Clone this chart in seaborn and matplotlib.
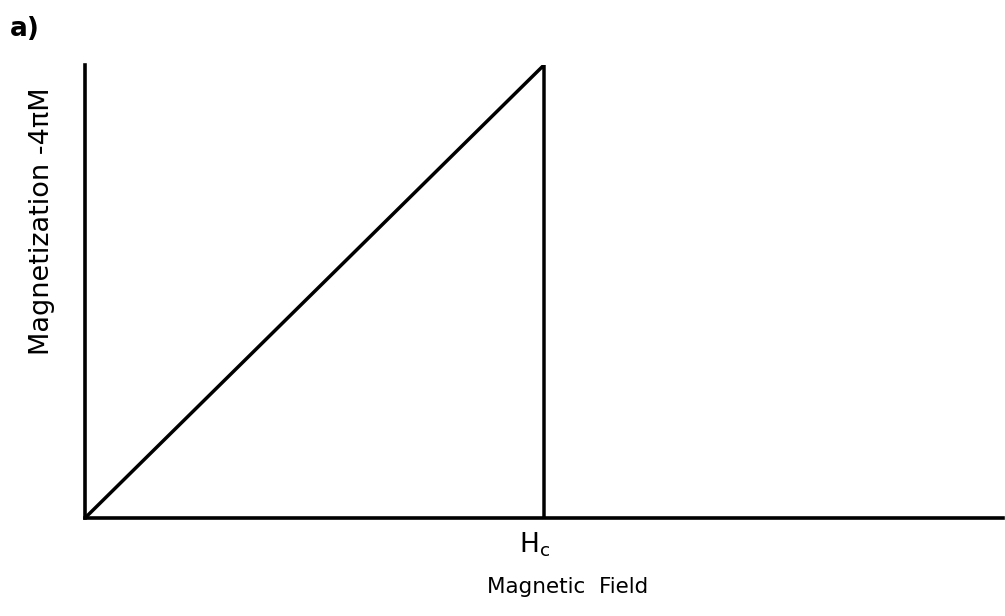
import matplotlib
matplotlib.use("Agg")
import matplotlib.pyplot as plt
import seaborn as sns
import pandas as pd

# Field and magnetization of an ideal type-I superconductor (normalised to Hc)
field = [0.0, 1.0, 1.0]
magnetization = [0.0, 1.0, 0.0]
critical_field = 1.0
critical_label = "H$_\\mathregular{c}$"

sns.set_theme(style="white")
plt.rcParams["font.family"] = ["DejaVu Sans"]

fig = plt.figure(figsize=(10.05, 6.16), dpi=100)
ax = fig.add_axes([85 / 1005, 98 / 616, 918 / 1005, 453 / 616])

df = pd.DataFrame({"H": field, "M": magnetization})
sns.lineplot(data=df, x="H", y="M", sort=False, estimator=None,
             color="black", linewidth=2.5, ax=ax)

ax.set_xlim(0, 2)
ax.set_ylim(0, 1)
for side in ("top", "right"):
    ax.spines[side].set_visible(False)
for side in ("left", "bottom"):
    ax.spines[side].set_color("black")
    ax.spines[side].set_linewidth(2.6)

ax.set_xticks([])
ax.set_yticks([])

# Critical field marker under the axis
ax.annotate(critical_label, xy=(critical_field, 0), xycoords="data",
            xytext=(-7, -9), textcoords="offset points",
            ha="center", va="top", fontsize=19, color="black",
            annotation_clip=False)

ax.set_xlabel("Magnetic  Field", fontsize=15.5, color="black")
ax.xaxis.set_label_coords(0.526, -0.131)
ax.set_ylabel("Magnetization -4πM", fontsize=19.5, color="black")
ax.yaxis.set_label_coords(-0.033, 0.655)

fig.text(10 / 1005, 1 - 36 / 616, "a)", fontsize=19, color="black",
         fontweight="bold")

fig.savefig("out.png", dpi=100, facecolor="white")
